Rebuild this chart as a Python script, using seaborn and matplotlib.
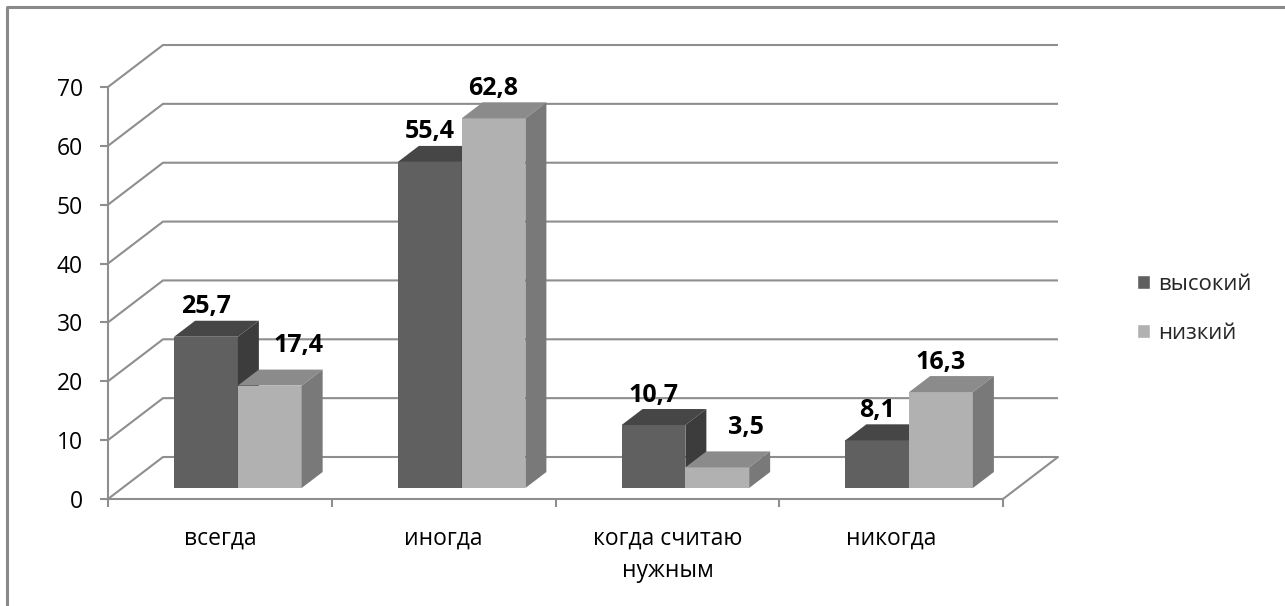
import numpy as np
import pandas as pd
import matplotlib
matplotlib.use("Agg")
import matplotlib.pyplot as plt
from matplotlib.patches import Polygon, Patch
from matplotlib.lines import Line2D
import seaborn as sns

# ---------------- data ----------------
categories = ['всегда', 'иногда', 'когда считаю\nнужным', 'никогда']
series = ['высокий', 'низкий']
values_high = [25.7, 55.4, 10.7, 8.1]
values_low = [17.4, 62.8, 3.5, 16.3]
y_ticks = [0, 10, 20, 30, 40, 50, 60, 70]

df = pd.DataFrame({
    'category': categories * 2,
    'level': [series[0]] * len(categories) + [series[1]] * len(categories),
    'value': values_high + values_low,
})

# ---------------- style ----------------
sns.set_style('white')
plt.rcParams['font.family'] = ['Open Sans', 'DejaVu Sans']

W, H = 1285, 606
GRID = '#8e8e8e'
front = {'высокий': '#606060', 'низкий': '#b1b1b1'}
top = {'высокий': '#464646', 'низкий': '#8b8b8b'}
side = {'высокий': '#3c3c3c', 'низкий': '#797979'}

# pixel offsets of the fake 3D view
BAR_SHIFT = (18, 11)
BAR_DEPTH = (21, 16)
WALL_DEPTH = (55, 42)
# label shift (px) for labels that Excel pushed aside
label_shift = {('низкий', 0): (29, 10), ('низкий', 2): (29, 10)}

fig = plt.figure(figsize=(W / 100, H / 100), dpi=100)
ax = fig.add_axes([108 / W, (H - 499) / H, 895 / W, 412 / H])

sns.barplot(data=df, x='category', y='value', hue='level', order=categories,
            hue_order=series, palette=front, width=0.57, saturation=1,
            errorbar=None, linewidth=0, legend=False, ax=ax)

ax.set_xlim(-0.5, len(categories) - 0.5)
ax.set_ylim(0, 70)

sx = ax.transData.transform((1, 0))[0] - ax.transData.transform((0, 0))[0]
sy = ax.transData.transform((0, 1))[1] - ax.transData.transform((0, 0))[1]
bdx, bdy = BAR_SHIFT[0] / sx, BAR_SHIFT[1] / sy
ddx, ddy = BAR_DEPTH[0] / sx, BAR_DEPTH[1] / sy
wdx, wdy = WALL_DEPTH[0] / sx, WALL_DEPTH[1] / sy

# back wall grid and floor
x_lo, x_hi = ax.get_xlim()
for v in y_ticks:
    ax.plot([x_lo, x_lo + wdx, x_hi + wdx], [v, v + wdy, v + wdy],
            color=GRID, lw=1.5, zorder=1, clip_on=False, solid_capstyle='butt')
ax.plot([x_hi, x_hi + wdx], [0, wdy], color=GRID, lw=1.5, zorder=1, clip_on=False)

# 3D faces for every bar
for si, (s, cont) in enumerate(zip(series, ax.containers)):
    z = 2 + si
    for ci, p in enumerate(cont.patches):
        x0, w, h = p.get_x() + bdx, p.get_width(), p.get_height()
        p.set_x(x0)
        p.set_y(bdy)
        p.set_zorder(z)
        p.set_clip_on(False)
        x1, y0, y1 = x0 + w, bdy, bdy + h
        ax.add_patch(Polygon([(x0, y1), (x1, y1), (x1 + ddx, y1 + ddy), (x0 + ddx, y1 + ddy)],
                             closed=True, facecolor=top[s], lw=0, zorder=z, clip_on=False))
        ax.add_patch(Polygon([(x1, y0), (x1 + ddx, y0 + ddy), (x1 + ddx, y1 + ddy), (x1, y1)],
                             closed=True, facecolor=side[s], lw=0, zorder=z, clip_on=False))
        sh = label_shift.get((s, ci), (0, 0))
        txt = f'{h:.1f}'.replace('.', ',')
        ax.annotate(txt, (x0 + w / 2, y1), xytext=(sh[0], 30 + sh[1]),
                    textcoords='offset pixels', ha='center', va='center',
                    fontsize=18, fontweight='bold', color='black', zorder=6,
                    annotation_clip=False)

# axes, ticks
for sp in ['top', 'right']:
    ax.spines[sp].set_visible(False)
for sp in ['left', 'bottom']:
    ax.spines[sp].set_color(GRID)
    ax.spines[sp].set_linewidth(1.5)

ax.set_yticks(y_ticks)
ax.tick_params(axis='y', length=6, width=1.5, color=GRID, pad=12,
               labelsize=16.5, labelcolor='black', left=True)
ax.set_xticks(np.arange(len(categories) + 1) - 0.5, [''] * (len(categories) + 1))
ax.set_xticks(np.arange(len(categories)), categories, minor=True)
ax.tick_params(axis='x', which='major', length=6, width=1.5, color=GRID, bottom=True)
ax.tick_params(axis='x', which='minor', length=0, pad=20, labelsize=16.5,
               labelcolor='black')
for t in ax.get_xticklabels(minor=True):
    t.set_linespacing(1.45)
ax.set_xlabel('')
ax.set_ylabel('')
ax.grid(False)

handles = [Patch(facecolor=front[s], label=s) for s in series]
ax.legend(handles=handles, loc='center left', bbox_to_anchor=(1137 / W, (H - 309) / H),
          bbox_transform=fig.transFigure, frameon=False, fontsize=16,
          handlelength=0.6, handleheight=0.6, handletextpad=0.35, labelspacing=1.25,
          borderpad=0, borderaxespad=0)

# outer chart frame (only left and top edges are in view)
fig.add_artist(Line2D([7 / W, 7 / W, 1], [0, (H - 7) / H, (H - 7) / H],
                      transform=fig.transFigure, color='#8a8a8a', lw=2.2))

fig.savefig('out.png', dpi=100)
